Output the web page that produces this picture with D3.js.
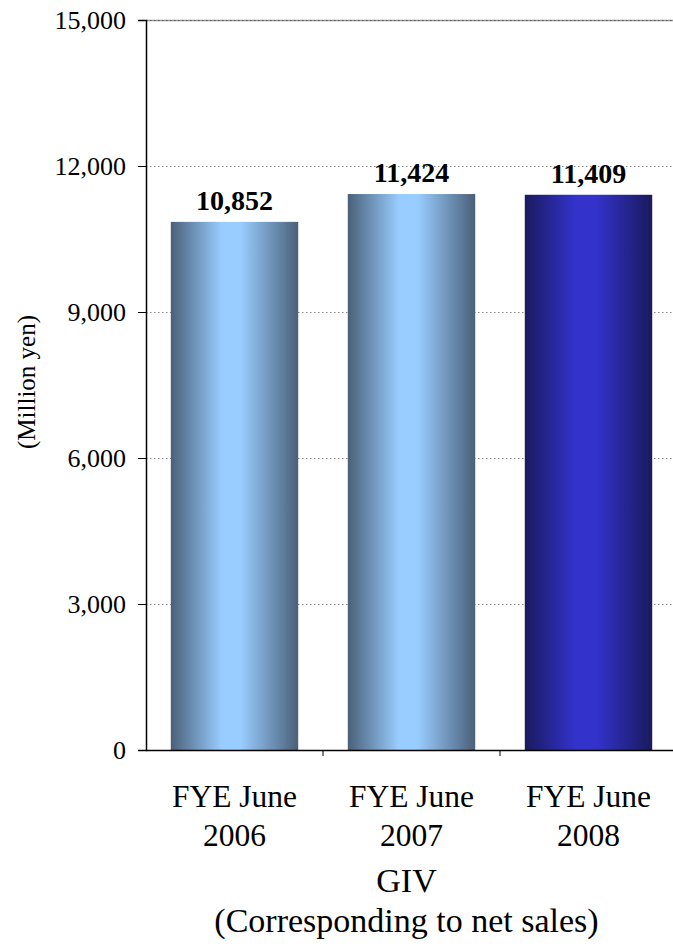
<!DOCTYPE html>
<html>
<head>
<meta charset="utf-8">
<script src="https://cdn.jsdelivr.net/npm/d3@7"></script>
<style>
  body { margin: 0; background: #fff; }
  svg text { font-family: "Liberation Serif", "Times New Roman", serif !important; fill: #000; }
</style>
</head>
<body>
<div id="chart"></div>
<script>
// data
var categories = ["FYE June 2006", "FYE June 2007", "FYE June 2008"];
var catLines = [["FYE June", "2006"], ["FYE June", "2007"], ["FYE June", "2008"]];
var values = [10852, 11424, 11409];
var yTicks = [0, 3000, 6000, 9000, 12000, 15000];
var titleLines = ["GIV", "(Corresponding to net sales)"];
var yTitle = "(Million yen)";

var w = 673, h = 952;
// plot box (note: "top" is reserved on window, so use own names)
var plotL = 146, plotT = 20, plotB = 750, plotR = 677;

var svg = d3.select("#chart").append("svg")
            .attr("width", w)
            .attr("height", h);

// gradients, light in middle dark at edges
var defs = svg.append("defs");
function addGrad(id, edge, mid){
  var g = defs.append("linearGradient").attr("id", id)
              .attr("x1", "0%").attr("x2", "100%").attr("y1", "0%").attr("y2", "0%");
  g.append("stop").attr("offset", "0%").attr("stop-color", edge);
  g.append("stop").attr("offset", "40%").attr("stop-color", mid);
  g.append("stop").attr("offset", "55%").attr("stop-color", mid);
  g.append("stop").attr("offset", "100%").attr("stop-color", edge);
}
addGrad("gLight", "#4a6079", "#99ccff");
addGrad("gDark", "#1a1a5e", "#3333cc");

var x = d3.scaleBand().domain(categories).range([plotL, plotR]).paddingInner(0.28).paddingOuter(0.14);
var y = d3.scaleLinear().domain([0, 15000]).range([plotB, plotT]);

// top border of plot area: solid grey under the dots
svg.append("line")
   .attr("x1", plotL).attr("x2", w)
   .attr("y1", y(15000) + 0.5).attr("y2", y(15000) + 0.5)
   .attr("stroke", "#999").attr("stroke-width", 1.5);

// gridlines
svg.append("g").selectAll("line")
   .data(yTicks.filter(function(d){ return d > 0; }))
   .enter().append("line")
   .attr("x1", plotL).attr("x2", w)
   .attr("y1", function(d){ return y(d) + 0.5; })
   .attr("y2", function(d){ return y(d) + 0.5; })
   .attr("stroke", function(d){ return d == 15000 ? "#555" : "#888"; })
   .attr("stroke-width", 1)
   .attr("stroke-dasharray", "1.5,2.5");

// bars
svg.append("g").selectAll("rect")
   .data(values)
   .enter().append("rect")
   .attr("x", function(d, i){ return x(categories[i]); })
   .attr("width", x.bandwidth())
   .attr("y", function(d){ return y(d); })
   .attr("height", function(d){ return plotB - y(d); })
   .attr("fill", function(d, i){ return i == 2 ? "url(#gDark)" : "url(#gLight)"; });

// value labels
svg.append("g").selectAll("text")
   .data(values)
   .enter().append("text")
   .attr("x", function(d, i){ return x(categories[i]) + x.bandwidth()/2; })
   .attr("y", function(d){ return y(d) - 12; })
   .attr("text-anchor", "middle")
   .style("font-size", "28px")
   .style("font-weight", "bold")
   .text(function(d){ return d3.format(",")(d); });

// y axis
var yAxis = svg.append("g")
   .attr("transform", "translate(" + plotL + ",0)")
   .call(d3.axisLeft(y).tickValues(yTicks).tickFormat(d3.format(",")).tickSizeOuter(0).tickSize(8).tickPadding(12));
yAxis.select(".domain").attr("stroke", "#000").attr("stroke-width", 1.5);
yAxis.selectAll(".tick line").attr("stroke", "#000");
yAxis.selectAll("text").style("font-size", "26px");

// x axis
var xAxis = svg.append("g")
   .attr("transform", "translate(0," + plotB + ")");
xAxis.append("line")
   .attr("x1", plotL).attr("x2", w)
   .attr("y1", 0.5).attr("y2", 0.5)
   .attr("stroke", "#000").attr("stroke-width", 1.5);
var bounds = categories.map(function(c){ return x(c) - x.step()*x.paddingInner()/2; }).slice(1);
xAxis.selectAll(".xt").data(bounds).enter().append("line")
   .attr("x1", function(d){ return d; }).attr("x2", function(d){ return d; })
   .attr("y1", 0).attr("y2", 6).attr("stroke", "#000");

var lab = svg.append("g").selectAll("text")
   .data(catLines)
   .enter().append("text")
   .attr("text-anchor", "middle")
   .style("font-size", "31.5px")
   .attr("transform", function(d, i){ return "translate(" + (x(categories[i]) + x.bandwidth()/2) + ",807)"; });
lab.selectAll("tspan").data(function(d){ return d; }).enter().append("tspan")
   .attr("x", 0).attr("dy", function(d, i){ return i == 0 ? 0 : 39; })
   .text(function(d){ return d; });

// title under the chart
svg.append("text")
   .attr("text-anchor", "middle")
   .attr("transform", "translate(" + (plotL + (w - plotL)/2 - 3) + ",892)")
   .style("font-size", "34px")
   .selectAll("tspan").data(titleLines).enter().append("tspan")
   .attr("x", 0).attr("dy", function(d, i){ return i == 0 ? 0 : 40; })
   .text(function(d){ return d; });

// y title
svg.append("text")
   .attr("text-anchor", "middle")
   .attr("transform", "translate(35,382) rotate(-90)")
   .style("font-size", "25px")
   .text(yTitle);
</script>
</body>
</html>
